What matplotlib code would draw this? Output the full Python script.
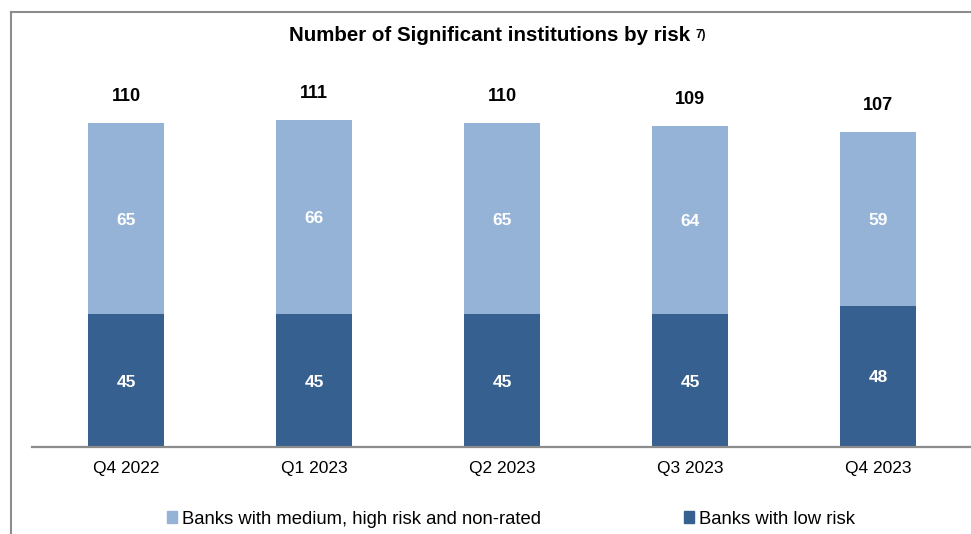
import matplotlib
matplotlib.use("Agg")
import matplotlib.pyplot as plt
from matplotlib.lines import Line2D
from matplotlib.patches import Patch

plt.rcParams['font.family'] = ['Liberation Sans', 'DejaVu Sans']

quarters = ['Q4 2022', 'Q1 2023', 'Q2 2023', 'Q3 2023', 'Q4 2023']
low_risk = [45, 45, 45, 45, 48]
medium_high = [65, 66, 65, 64, 59]
totals = [110, 111, 110, 109, 107]

dark = '#36608f'
light = '#95b3d7'
W, H = 971, 534

fig = plt.figure(figsize=(W / 100, H / 100), dpi=100)
ax = fig.add_axes([32 / W, (H - 447) / H, 940 / W, (447 - 60) / H])

x = range(len(quarters))
ax.bar(x, low_risk, width=0.4, color=dark)
ax.bar(x, medium_high, width=0.4, bottom=low_risk, color=light)

for i in x:
    ax.text(i, low_risk[i] / 2, str(low_risk[i]), ha='center', va='center_baseline',
            color='white', fontsize=12.5, fontweight='bold')
    ax.text(i, low_risk[i] + medium_high[i] / 2, str(medium_high[i]), ha='center',
            va='center_baseline', color='white', fontsize=12.5, fontweight='bold')
    ax.annotate(str(totals[i]), (i, totals[i]), xytext=(0, 19),
                textcoords='offset points', ha='center', va='center',
                fontsize=13, fontweight='bold')

ax.set_xlim(-0.5, 4.5)
ax.set_ylim(0, (447 - 60) / 2.945)
ax.set_xticks(list(x))
ax.set_xticklabels(quarters, fontsize=12.5)
ax.set_yticks([])
ax.tick_params(axis='x', length=0, pad=10)
for s in ['top', 'right', 'left']:
    ax.spines[s].set_visible(False)
ax.spines['bottom'].set_color('#8c8c8c')
ax.spines['bottom'].set_linewidth(1.6)

# title with superscript
t = fig.text(490 / W, 1 - 36 / H, 'Number of Significant institutions by risk',
             ha='center', va='center', fontsize=14.8, fontweight='bold')
fig.canvas.draw()
bb = t.get_window_extent()
fig.text((bb.x1 + 5) / W, (bb.y1 - 3) / H, '7)', ha='left', va='top',
         fontsize=8.5, fontweight='bold')

# outer frame (left and top visible)
fig.add_artist(Line2D([11 / W, 11 / W], [0, 1 - 12 / H], transform=fig.transFigure,
                      color='#8c8c8c', lw=1.5))
fig.add_artist(Line2D([11 / W, 1], [1 - 12 / H, 1 - 12 / H], transform=fig.transFigure,
                      color='#8c8c8c', lw=1.5))

handles = [Patch(color=light), Patch(color=dark)]
fig.legend(handles, ['Banks with medium, high risk and non-rated', 'Banks with low risk'],
           loc='center', bbox_to_anchor=(511 / W, 1 - 519 / H), ncol=2, frameon=False,
           fontsize=13.3, handlelength=0.55, handleheight=0.55, handletextpad=0.3,
           columnspacing=7.7)

fig.savefig('out.png', dpi=100)
